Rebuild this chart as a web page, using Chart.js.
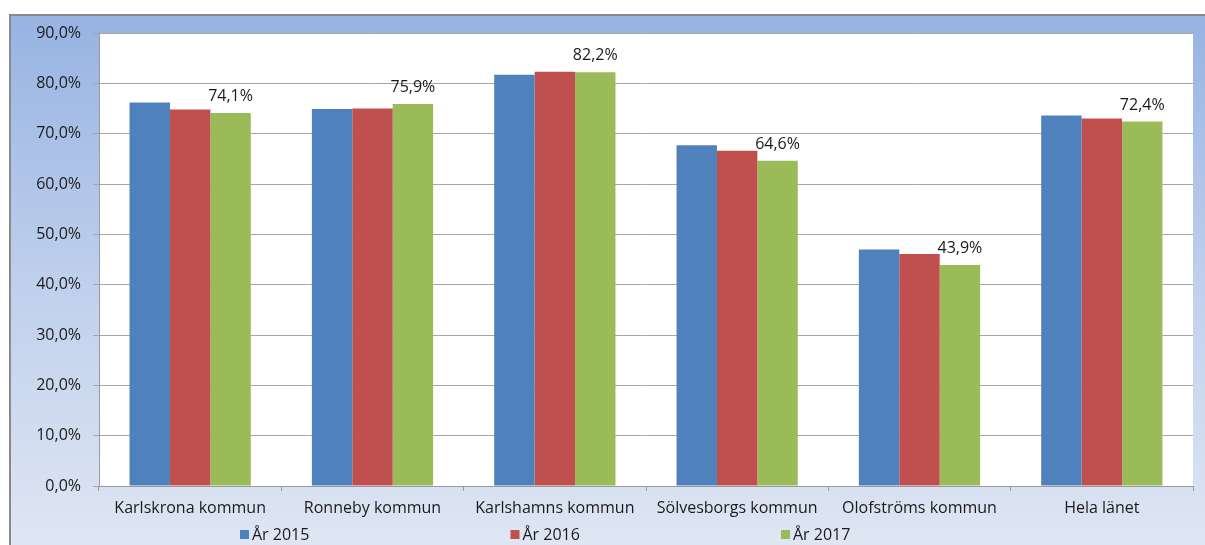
<!DOCTYPE html>
<html>
<head>
<meta charset="utf-8">
<script src="https://cdn.jsdelivr.net/npm/chart.js@4/dist/chart.umd.min.js"></script>
<style>
  html, body { margin: 0; padding: 0; background: #fff; }
  #chart { display: block; }
</style>
</head>
<body>
<canvas id="chart" width="1205" height="545"></canvas>
<script>
var categories = ['Karlskrona kommun', 'Ronneby kommun', 'Karlshamns kommun', 'Sölvesborgs kommun', 'Olofströms kommun', 'Hela länet'];
var seriesNames = ['År 2015', 'År 2016', 'År 2017'];
var values2015 = [76.2, 74.9, 81.7, 67.7, 47.0, 73.6];
var values2016 = [74.8, 75.0, 82.3, 66.6, 46.1, 73.0];
var values2017 = [74.1, 75.9, 82.2, 64.6, 43.9, 72.4];
var yMax = 90;
var yStep = 10;

var colors = ['#4f81bd', '#c0504d', '#9bbb59'];
var FONT = '"Open Sans", sans-serif';
var TEXT = '#1a1a1a';

function pct(v, digits) {
    return v.toFixed(digits).replace('.', ',') + '%';
}

// light blue frame behind the white plot area
var backdrop = {
    id: 'backdrop',
    beforeDraw: function (chart) {
        var ctx = chart.ctx;
        var a = chart.chartArea;
        ctx.save();
        var g = ctx.createLinearGradient(0, 15, 0, chart.height);
        g.addColorStop(0, '#97b3e2');
        g.addColorStop(0.5, '#bfcfec');
        g.addColorStop(1, '#dfe6f3');
        ctx.fillStyle = g;
        ctx.fillRect(10, 15, chart.width - 10, chart.height - 15);
        ctx.strokeStyle = '#8a8a8a';
        ctx.lineWidth = 2;
        ctx.beginPath();
        ctx.moveTo(10, chart.height);
        ctx.lineTo(10, 15);
        ctx.lineTo(chart.width, 15);
        ctx.stroke();
        ctx.fillStyle = '#ffffff';
        ctx.fillRect(a.left, a.top, a.right - a.left, a.bottom - a.top);
        ctx.restore();
    }
};

// value labels above the 2017 bars
var valueLabels = {
    id: 'valueLabels',
    afterDatasetsDraw: function (chart) {
        var ctx = chart.ctx;
        var meta = chart.getDatasetMeta(2);
        ctx.save();
        ctx.font = '16px ' + FONT;
        ctx.fillStyle = TEXT;
        ctx.textAlign = 'center';
        ctx.textBaseline = 'alphabetic';
        meta.data.forEach(function (bar, i) {
            ctx.fillText(pct(values2017[i], 1), bar.x, bar.y - 12);
        });
        ctx.restore();
    }
};

// legend spread along the bottom edge
var spreadLegend = {
    id: 'spreadLegend',
    afterDraw: function (chart) {
        var ctx = chart.ctx;
        var startX = 240, step = 270.5, y = 535;
        ctx.save();
        ctx.font = '16px ' + FONT;
        ctx.textBaseline = 'middle';
        ctx.textAlign = 'left';
        chart.data.datasets.forEach(function (ds, i) {
            var x = startX + i * step;
            ctx.fillStyle = ds.backgroundColor;
            ctx.fillRect(x, y - 5, 9, 9);
            ctx.fillStyle = TEXT;
            ctx.fillText(ds.label, x + 12, y);
        });
        ctx.restore();
    }
};

var ctx = document.getElementById('chart').getContext('2d');

var chart = new Chart(ctx, {
    type: 'bar',
    data: {
        labels: categories,
        datasets: [
            { label: seriesNames[0], data: values2015, backgroundColor: colors[0] },
            { label: seriesNames[1], data: values2016, backgroundColor: colors[1] },
            { label: seriesNames[2], data: values2017, backgroundColor: colors[2] }
        ]
    },
    options: {
        responsive: false,
        animation: false,
        devicePixelRatio: 1,
        layout: { padding: { top: 33, right: 12, left: 0, bottom: 0 } },
        datasets: {
            bar: {
                barPercentage: 1,
                categoryPercentage: 0.665,
                borderWidth: 0
            }
        },
        plugins: {
            legend: { display: false },
            tooltip: { enabled: false }
        },
        scales: {
            x: {
                afterFit: function (s) { s.height = 59; },
                grid: {
                    offset: true,
                    drawOnChartArea: false,
                    drawTicks: true,
                    tickLength: 5,
                    color: '#9a9a9a'
                },
                border: { color: '#9a9a9a', width: 1 },
                ticks: {
                    padding: 8,
                    color: TEXT,
                    font: { family: FONT, size: 16 },
                    maxRotation: 0
                }
            },
            y: {
                min: 0,
                max: yMax,
                afterFit: function (s) { s.width = 99; },
                grid: {
                    color: '#a6a6a6',
                    lineWidth: 1,
                    tickLength: 6
                },
                border: { color: '#9a9a9a', width: 1 },
                ticks: {
                    stepSize: yStep,
                    padding: 12,
                    color: TEXT,
                    font: { family: FONT, size: 16 },
                    callback: function (v) { return pct(v, 1); }
                }
            }
        }
    },
    plugins: [backdrop, valueLabels, spreadLegend]
});
</script>
</body>
</html>
